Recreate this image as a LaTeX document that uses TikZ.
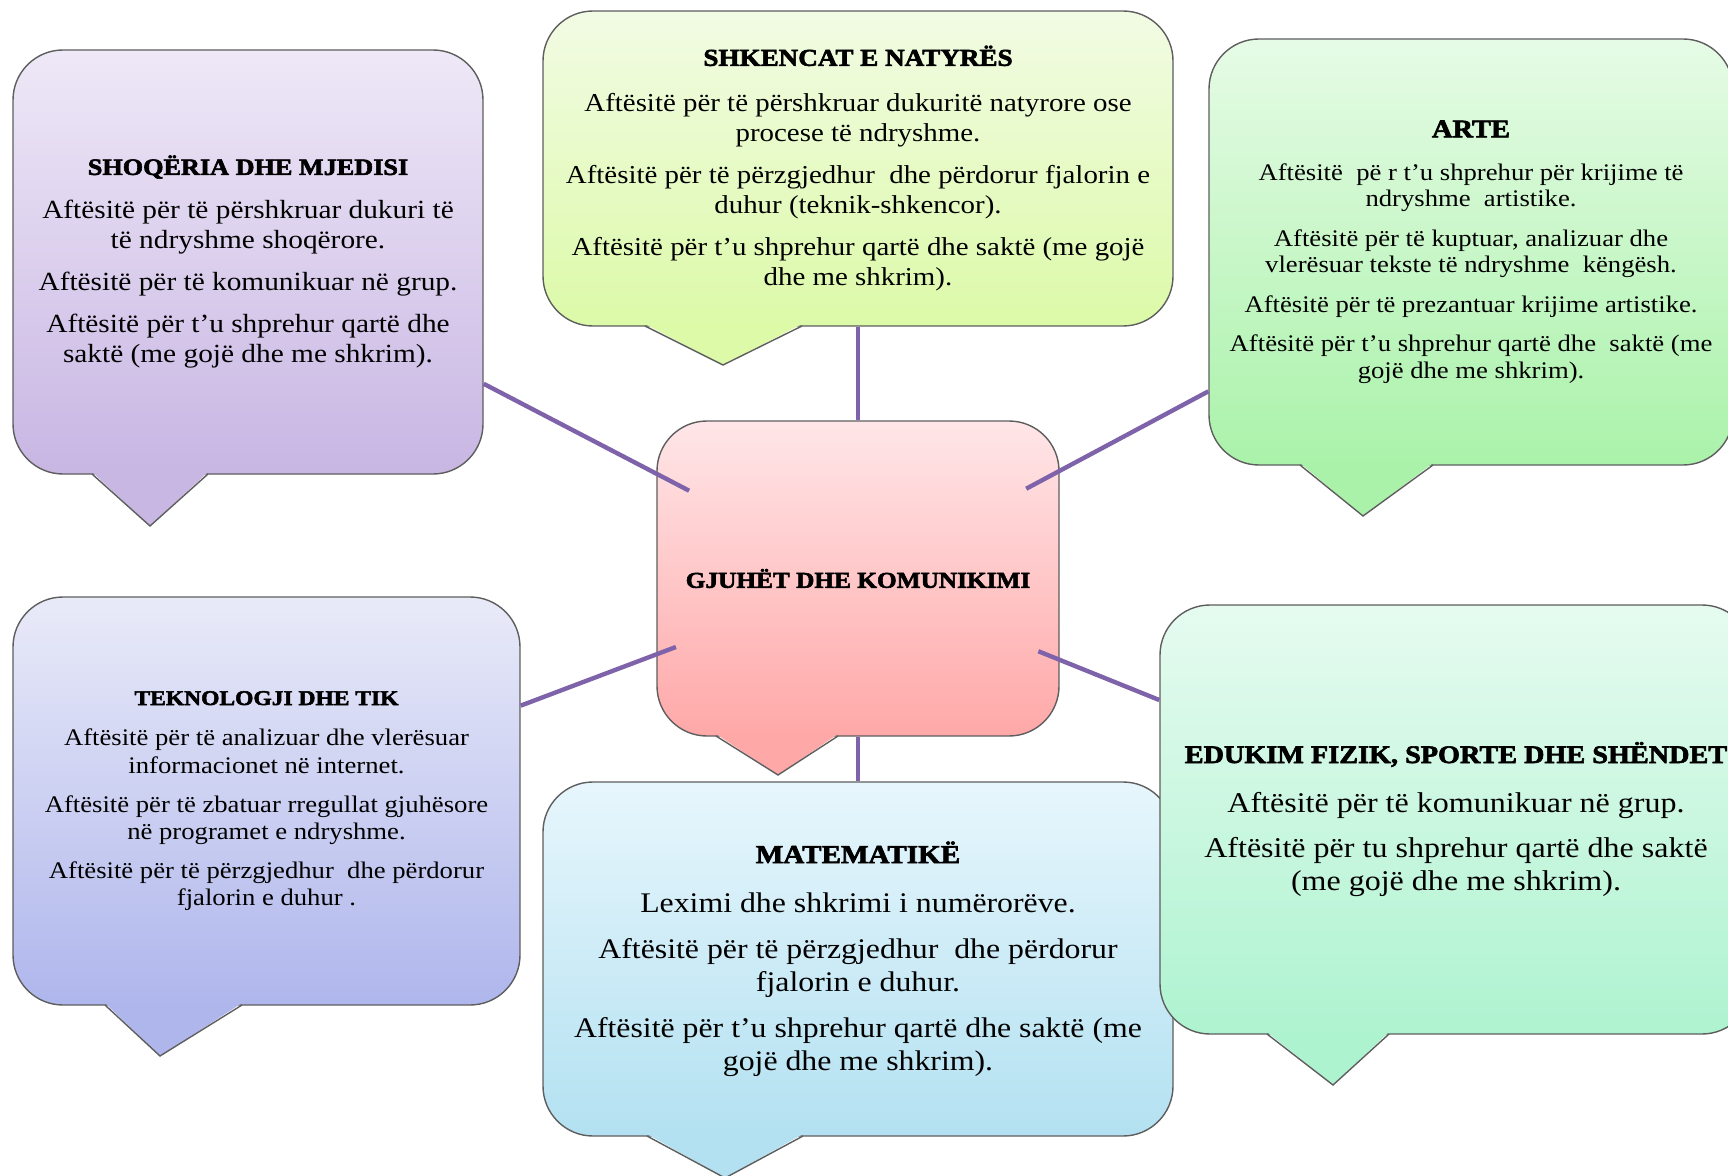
\documentclass[tikz,border=0pt]{standalone}
\usepackage{fontspec}
\setmainfont{Liberation Serif}[FakeStretch=1.12]
\newfontfamily\headfont{Liberation Serif}[FakeStretch=1.12,BoldFeatures={FakeBold=2.5}]
\newcommand{\heading}[2]{{\headfont\bfseries\fontsize{#1}{#1}\selectfont #2}}

\definecolor{shoqTop}{HTML}{EEE8F7}
\definecolor{shoqBot}{HTML}{C8B6E3}
\definecolor{shkTop}{HTML}{F2FBE4}
\definecolor{shkBot}{HTML}{DCFAA8}
\definecolor{arteTop}{HTML}{E6FBE6}
\definecolor{arteBot}{HTML}{AAF2AA}
\definecolor{gjuTop}{HTML}{FFE6E8}
\definecolor{gjuBot}{HTML}{FFA8A8}
\definecolor{tikTop}{HTML}{E9EAF8}
\definecolor{tikBot}{HTML}{AFB6EC}
\definecolor{matTop}{HTML}{E7F6FC}
\definecolor{matBot}{HTML}{B3E1F1}
\definecolor{eduTop}{HTML}{E6FBF0}
\definecolor{eduBot}{HTML}{AEF3D0}
\definecolor{rimgray}{HTML}{5E5E5E}
\definecolor{linkpurple}{HTML}{7E63AA}

\tikzset{
  bubble/.style={rounded corners=25pt,draw=rimgray,line width=0.7pt,align=center,inner sep=0pt},
  rim/.style={draw=rimgray,line width=0.7pt},
  link/.style={draw=linkpurple,line width=2.2pt}
}

\begin{document}
\begin{tikzpicture}[x=0.5pt,y=-0.5pt]
\useasboundingbox (0,0) rectangle (1728,1176);
\clip (0,0) rectangle (1728,1176);

% the seven bubbles
\node[bubble,top color=shoqTop,bottom color=shoqBot,minimum width=235pt,minimum height=212pt,font=\fontsize{13.1}{15}\selectfont] (shoq) at (248,262) {\heading{11.7}{SHOQËRIA DHE MJEDISI}\\[7pt]
Aftësitë për të përshkruar dukuri të\\ të ndryshme shoqërore.\\[6pt]
Aftësitë për të komunikuar në grup.\\[6pt]
Aftësitë për t'u shprehur qartë dhe\\ saktë (me gojë dhe me shkrim).};
\node[bubble,top color=shkTop,bottom color=shkBot,minimum width=315pt,minimum height=157.5pt,font=\fontsize{12.9}{15}\selectfont] (shkenca) at (858,168.5) {\heading{12.1}{SHKENCAT E NATYRËS}\\[8pt]
Aftësitë për të përshkruar dukuritë natyrore ose\\ procese të ndryshme.\\[6pt]
Aftësitë për të përzgjedhur\ \ dhe përdorur fjalorin e\\ duhur (teknik-shkencor).\\[6pt]
Aftësitë për t'u shprehur qartë dhe saktë (me gojë\\ dhe me shkrim).};
\node[bubble,top color=arteTop,bottom color=arteBot,minimum width=262pt,minimum height=213pt,font=\fontsize{11.9}{13.2}\selectfont] (arte) at (1471,252) {\heading{12.7}{ARTE}\\[8.3pt]
Aftësitë\ \ pë r t'u shprehur për krijime të\\ ndryshme\ \ artistike.\\[6.6pt]
Aftësitë për të kuptuar, analizuar dhe\\ vlerësuar tekste të ndryshme\ \ këngësh.\\[6.6pt]
Aftësitë për të prezantuar krijime artistike.\\[6.6pt]
Aftësitë për t'u shprehur qartë dhe\ \ saktë (me\\ gojë dhe me shkrim).};
\node[bubble,top color=gjuTop,bottom color=gjuBot,minimum width=201pt,minimum height=157.5pt] (gjuhe) at (858,578.5) {\heading{11.3}{GJUHËT DHE KOMUNIKIMI}};
\node[bubble,top color=tikTop,bottom color=tikBot,minimum width=253.5pt,minimum height=204pt,font=\fontsize{11.9}{13.8}\selectfont] (tik) at (266.5,801) {\heading{10.5}{TEKNOLOGJI DHE TIK}\\[6.6pt]
Aftësitë për të analizuar dhe vlerësuar\\ informacionet në internet.\\[5.5pt]
Aftësitë për të zbatuar rregullat gjuhësore\\ në programet e ndryshme.\\[5.5pt]
Aftësitë për të përzgjedhur\ \ dhe përdorur\\ fjalorin e duhur .};
\node[bubble,top color=matTop,bottom color=matBot,minimum width=315pt,minimum height=177pt,font=\fontsize{14.2}{16.5}\selectfont] (mat) at (858,959) {\heading{13}{MATEMATIKË}\\[8.3pt]
Leximi dhe shkrimi i numërorëve.\\[6.4pt]
Aftësitë për të përzgjedhur\ \ dhe përdorur\\ fjalorin e duhur.\\[6.4pt]
Aftësitë për t'u shprehur qartë dhe saktë (me\\ gojë dhe me shkrim).};
\node[bubble,top color=eduTop,bottom color=eduBot,minimum width=296pt,minimum height=214.5pt,font=\fontsize{14.3}{16.5}\selectfont] (edukim) at (1456,819.5) {\heading{12.6}{EDUKIM FIZIK, SPORTE DHE SHËNDET}\\[8.3pt]
Aftësitë për të komunikuar në grup.\\[6.1pt]
Aftësitë për tu shprehur qartë dhe saktë\\ (me gojë dhe me shkrim).};

% pointers under the bubbles
\foreach \xa/\xt/\yt/\xb/\yb/\col in {92/150/526/208/474/shoqBot,645/723/365/802/326/shkBot,
  1300/1363/516/1433/465/arteBot,716/778/775/838/736/gjuBot,105/160/1056/242/1005/tikBot,
  647/725/1178/803/1136/matBot,1267/1333/1085/1389/1034/eduBot}{
  \fill[\col] (\xa,\yb-2) -- (\xt,\yt) -- (\xb,\yb-2) -- cycle;
  \draw[rim] (\xa,\yb) -- (\xt,\yt) -- (\xb,\yb);
}

% links from the centre
\draw[link,shorten <=-18.5pt] (gjuhe) -- (shoq);
\draw[link] (gjuhe) -- (shkenca);
\draw[link,shorten <=-19pt] (gjuhe) -- (arte);
\draw[link,shorten <=-10.5pt] (gjuhe) -- (tik);
\draw[link] (gjuhe) -- (mat);
\draw[link,shorten <=-11.5pt] (gjuhe) -- (edukim);
\end{tikzpicture}
\end{document}
